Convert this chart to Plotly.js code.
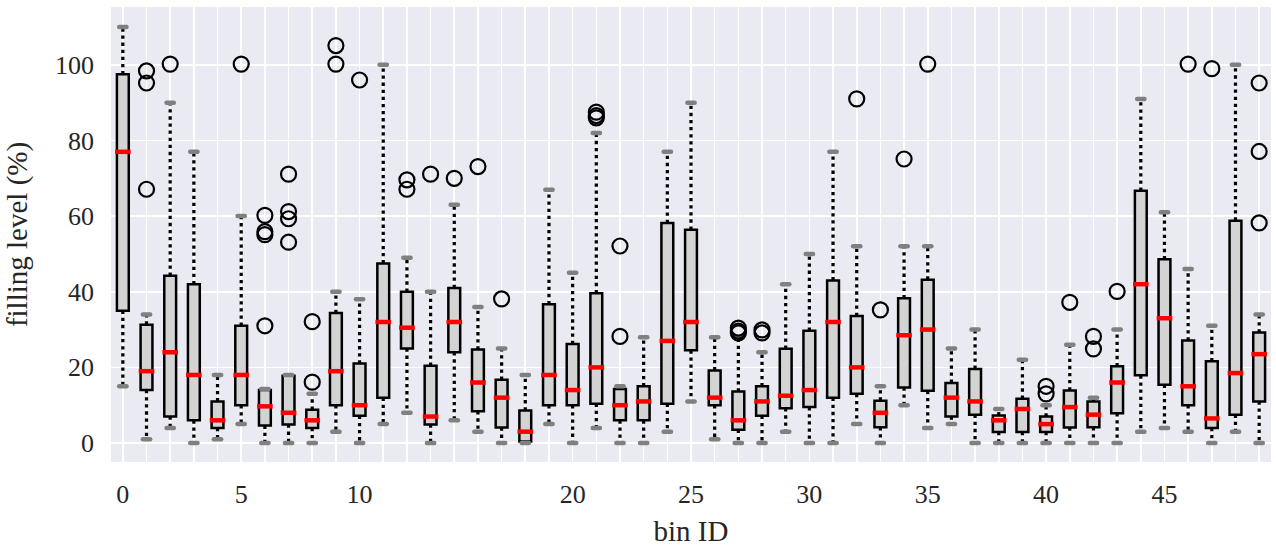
<!DOCTYPE html>
<html>
<head>
<meta charset="utf-8">
<script src="https://cdn.plot.ly/plotly-3.0.1.min.js"></script>
<style>
html,body{margin:0;padding:0;background:#fff;}
#chart{width:1276px;height:547px;}
.tracecaps path.point{stroke-linecap:round;}
</style>
</head>
<body>
<div id="chart"></div>
<script>
// Bin IDs (bin 15 is absent) — one box per bin, drawn at consecutive positions
var binIds = [0,1,2,3,4,5,6,7,8,9,10,11,12,13,14,16,17,18,19,20,21,22,23,24,25,26,27,28,29,30,31,32,33,34,35,36,37,38,39,40,41,42,43,44,45,46,47,48,49];
var lowCap  = [15,1,4,0,1,5,0,0,0,3,0,5,8,0,6,3,0,0,5,0,4,0,0,3,11,1,0,0,3,0,0,5,0,10,4,5,0,0,0,0,0,0,0,3,4,3,0,3,0];
var q1      = [35,14,7,6,4,10,4.6,4.9,4,10,7.2,12,25,4.9,24,8.4,4.1,0.4,10,10,10.4,6,6,10.4,24.5,10,3.5,7.2,9.2,9.5,12,13,4.2,14.7,13.8,7,7.5,2.9,2.9,2.9,4.1,4.2,7.9,17.9,15.4,10,4,7.5,11];
var medians = [77,19,24,18,6,18,9.7,8,6,19,10,32,30.5,7,32,16,12,3,18,14,20,10,11,27,32,12,6,11,12.5,14,32,20,8,28.5,30,12,11,6,9,5,9.5,7.5,16,42,33,15,6.5,18.5,23.5];
var q3      = [97.5,31.3,44.2,42,11,31,14,17.8,8.8,34.4,21,47.5,40,20.4,41,24.7,16.7,8.6,36.7,26.2,39.6,14.3,15,58.2,56.4,19.2,13.6,15,24.9,29.7,43,33.6,11.2,38.3,43.2,15.9,19.6,7.3,11.7,7,13.9,11,20.3,66.7,48.6,27.1,21.6,58.8,29.2];
var highCap = [110,34,90,77,18,60,14.3,18,13,40,38,100,49,40,63,36,25,18,67,45,82,15,28,77,90,28,28,24,42,50,77,52,15,52,52,25,30,9,22,10,26,12,30,91,61,46,31,100,34];
var outliers = [
  [], [98.4,95.2,67.1], [100.2], [], [], [100.2], [60.2,55.9,55.1,31], [71.1,61.2,59.3,53.1], [32.1,16.1], [105.1,100.2],
  [96], [], [69.6,67.1], [71.1], [70], [73.1], [38.1], [], [], [],
  [87.5,86.6,86], [52.1,28.2], [], [], [], [], [30.4,29.6,29.1], [29.9,29.1], [], [],
  [], [91], [35.2], [75.1], [100.2], [], [], [], [], [15,13],
  [37.2], [28.2,24.9], [40.1], [], [], [100.2], [99], [], [95.2,77.1,58.2]
];

var pos = binIds.map(function(_, i){ return i; });
var tickText = binIds.map(function(b){ return (b % 5 === 0) ? String(b) : ''; });

var wx = [], wy = [], mx = [], my = [], cx = [], cy = [], ox = [], oy = [];
var boxW = 0.5, medHalf = 0.33;
pos.forEach(function(p, i){
  wx.push(p, p, null, p, p, null);
  wy.push(q3[i], highCap[i], null, q1[i], lowCap[i], null);
  mx.push(p - medHalf, p + medHalf, null);
  my.push(medians[i], medians[i], null);
  cx.push(p, p); cy.push(highCap[i], lowCap[i]);
  outliers[i].forEach(function(v){ ox.push(p); oy.push(v); });
});

var traces = [
  {type:'scatter', mode:'lines', x:wx, y:wy, connectgaps:false,
   line:{color:'#000000', width:3.2, dash:'3.3px,3.8px'}, hoverinfo:'skip', showlegend:false},
  {type:'scatter', uid:'caps', mode:'markers', x:cx, y:cy,
   marker:{symbol:'line-ew', size:5.2, color:'#808080', line:{color:'#808080', width:4.5}}, hoverinfo:'skip', showlegend:false},
  {type:'bar', x:pos, base:q1, y:q3.map(function(v,i){ return v - q1[i]; }), width:boxW,
   marker:{color:'#D3D3D3', line:{color:'#000000', width:2.5}}, hoverinfo:'skip', showlegend:false},
  {type:'scatter', mode:'lines', x:mx, y:my, connectgaps:false,
   line:{color:'#FF0000', width:4.5}, hoverinfo:'skip', showlegend:false},
  {type:'scatter', mode:'markers', x:ox, y:oy,
   marker:{symbol:'circle-open', size:15, color:'#000000', line:{width:2.2, color:'#000000'}}, hoverinfo:'skip', showlegend:false}
];

var layout = {
  width:1276, height:547,
  margin:{l:111, r:5, t:7, b:85},
  paper_bgcolor:'#FFFFFF', plot_bgcolor:'#EAEAF2',
  font:{family:'Liberation Serif, Times New Roman, serif', color:'#262626', size:26},
  showlegend:false,
  barmode:'overlay',
  xaxis:{
    range:[-0.5, 48.5], tickmode:'array', tickvals:pos, ticktext:tickText,
    showgrid:true, gridcolor:'#FFFFFF', gridwidth:1.6, zeroline:false, showline:false,
    ticks:'', ticklabelstandoff:14, tickfont:{size:26},
    title:{text:'bin ID', font:{size:29}, standoff:12}
  },
  yaxis:{
    range:[-5.02, 115.3], tickmode:'array', tickvals:[0,20,40,60,80,100],
    showgrid:true, gridcolor:'#FFFFFF', gridwidth:1.6, zeroline:false, showline:false,
    ticks:'', ticklabelstandoff:16, tickfont:{size:26},
    title:{text:'filling level (%)', font:{size:29}, standoff:18}
  }
};

Plotly.newPlot('chart', traces, layout, {displayModeBar:false, staticPlot:true});
</script>
</body>
</html>
